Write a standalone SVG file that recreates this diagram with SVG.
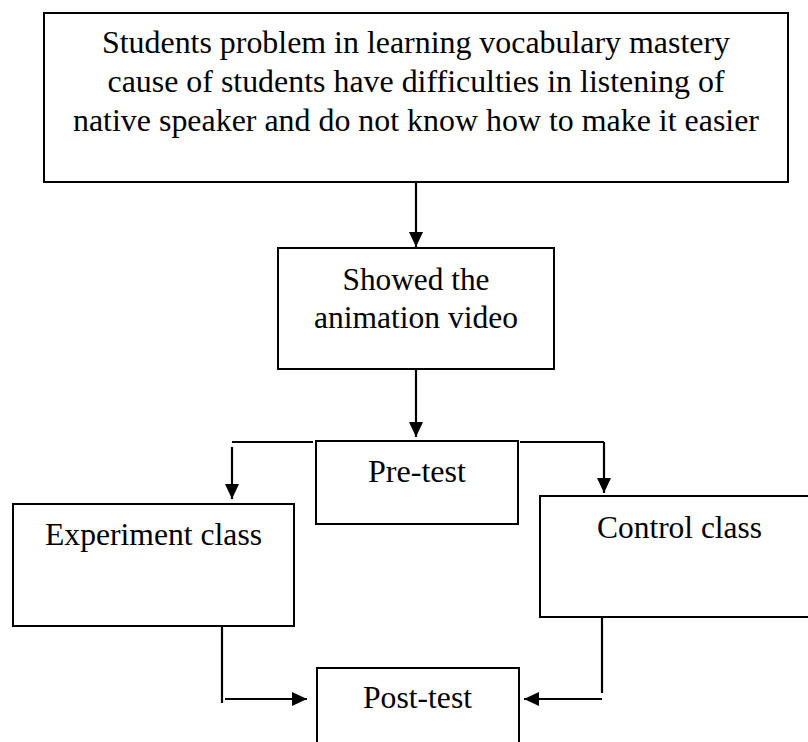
<svg xmlns="http://www.w3.org/2000/svg" width="808" height="742" viewBox="0 0 808 742">
<style>
.box{fill:#fff;stroke:#000;stroke-width:2}
.t{font-family:'Liberation Serif','Times New Roman',serif;font-size:32px;fill:#000;text-anchor:middle}
.c{stroke:#000;stroke-width:2.2;fill:none}
</style>
<defs>
<marker id="ah" markerUnits="userSpaceOnUse" markerWidth="16" markerHeight="15" refX="15" refY="7" orient="auto">
<path d="M0,0 L15,7 L0,14 Z" fill="#000"/>
</marker>
</defs>
<rect width="808" height="742" fill="#fff"/>
<g id="problem">
<rect class="box" x="44" y="13" width="744" height="169"/>
<text class="t" x="416" y="53" textLength="628" lengthAdjust="spacingAndGlyphs">Students problem in learning vocabulary mastery</text>
<text class="t" x="416" y="92" textLength="617" lengthAdjust="spacingAndGlyphs">cause of students have difficulties in listening of</text>
<text class="t" x="416" y="131" textLength="686" lengthAdjust="spacingAndGlyphs">native speaker and do not know how to make it easier</text>
</g>
<g id="showed">
<rect class="box" x="278" y="248" width="276" height="121"/>
<text class="t" x="416" y="290" textLength="147" lengthAdjust="spacingAndGlyphs">Showed the</text>
<text class="t" x="416" y="328" textLength="204" lengthAdjust="spacingAndGlyphs">animation video</text>
</g>
<g id="pretest">
<rect class="box" x="316" y="441" width="202" height="83"/>
<text class="t" x="417" y="482" textLength="98" lengthAdjust="spacingAndGlyphs">Pre-test</text>
</g>
<g id="experiment">
<rect class="box" x="13" y="504" width="281" height="122"/>
<text class="t" x="153.5" y="545" textLength="217" lengthAdjust="spacingAndGlyphs">Experiment class</text>
</g>
<g id="control">
<rect class="box" x="540" y="496" width="280" height="121"/>
<text class="t" x="679.5" y="538" textLength="165" lengthAdjust="spacingAndGlyphs">Control class</text>
</g>
<g id="posttest">
<rect class="box" x="317" y="668" width="202" height="90"/>
<text class="t" x="417.5" y="708" textLength="109" lengthAdjust="spacingAndGlyphs">Post-test</text>
</g>
<g id="connectors">
<line class="c" x1="416" y1="182" x2="416" y2="247" marker-end="url(#ah)"/>
<line class="c" x1="416" y1="369" x2="416" y2="437" marker-end="url(#ah)"/>
<line class="c" x1="232" y1="442" x2="313" y2="442"/>
<line class="c" x1="232" y1="447" x2="232" y2="499" marker-end="url(#ah)"/>
<line class="c" x1="520" y1="442" x2="604" y2="442"/>
<line class="c" x1="604" y1="442" x2="604" y2="493" marker-end="url(#ah)"/>
<line class="c" x1="222" y1="626" x2="222" y2="703"/>
<line class="c" x1="225" y1="699" x2="307" y2="699" marker-end="url(#ah)"/>
<line class="c" x1="602" y1="617" x2="602" y2="693"/>
<line class="c" x1="602" y1="699" x2="524" y2="699" marker-end="url(#ah)"/>
</g>
</svg>
